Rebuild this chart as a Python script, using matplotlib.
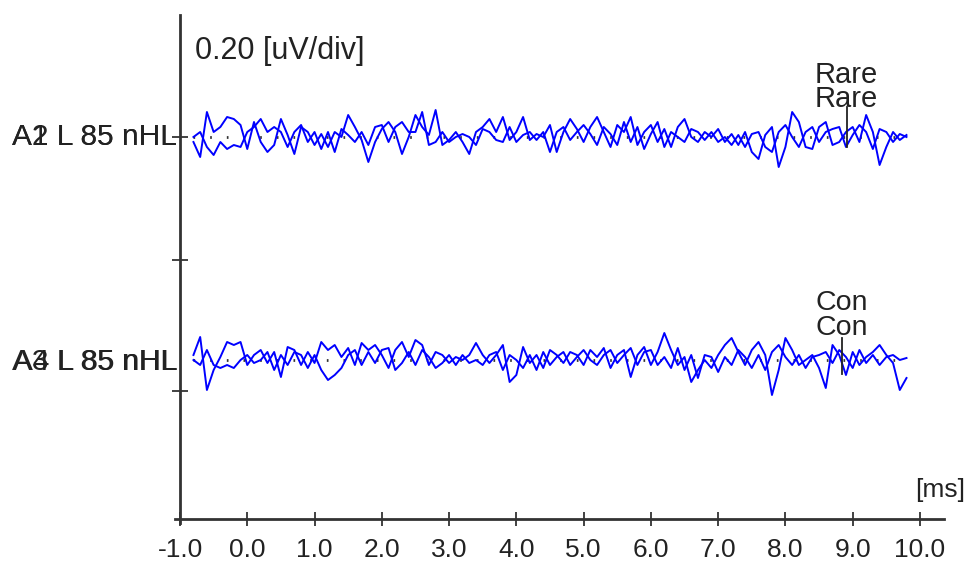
import numpy as np
import matplotlib
matplotlib.use("Agg")
import matplotlib.pyplot as plt

plt.rcParams['font.family'] = ['Liberation Sans', 'DejaVu Sans']

# sample times (ms), 0.1 ms apart
t = np.round(np.arange(-0.8, 9.85, 0.1), 2)

# amplitudes (arbitrary units, + is up)
rare_1 = [-5, -20, 25, 5, 10, 20, 18, 12, -12, 15, -5, -15, -8, 18, 2, -17, 10, 5, -8, 3,
          -10, 5, 0, 22, 10, -3, -25, -5, 8, 15, 5, -17, 0, 22, 10, 2, 27, -8, -3, 5,
          -5, -17, 5, 10, 18, 5, 20, -3, 5, 20, -3, 3, 0, 12, -15, 5, 18, 8, -5, 10,
          20, 5, -10, 12, 5, 20, -8, 5, 12, -5, 8, -10, 10, 18, 0, -5, 5, 0, 8, -5,
          3, -8, 5, -15, -22, 2, 10, -30, -10, 25, 15, -10, -12, 10, 15, -8, -5, 5, 10, -5,
          22, 5, -28, -10, 5, -3, 2]
rare_2 = [0, 5, -10, -18, -5, -12, -8, -10, 5, 10, 18, 5, 10, 5, -10, 5, 12, -5, 5, -12,
          5, -15, 8, 2, -5, 5, -8, 10, 12, -5, 10, 15, 5, 5, 25, -8, -5, 5, -5, 0,
          3, 0, -8, 8, 5, -3, -5, 10, -5, 2, 5, -3, 5, -15, 5, 10, -3, 5, 12, 3,
          -8, 10, 3, -8, 15, -5, 10, -12, 3, 15, -10, 5, 0, -5, 8, 5, -3, 5, -5, 0,
          -8, 2, -10, 3, 5, -10, -15, 5, 12, 0, -10, 5, 10, -5, 5, 8, 10, -10, 2, 12,
          5, -12, 8, 5, -5, 3, 0]
con_1 = [5, 23, -30, -10, 3, 18, 15, 18, -5, 5, 10, -3, 8, -17, 13, 10, -5, 8, -3, 18,
         10, 15, 3, 12, -5, 17, 10, 15, 5, -8, 10, 18, 3, 20, 15, -5, 8, 5, -3, 3,
         0, 5, 17, 5, -3, 5, 15, -22, -15, 13, -3, 5, -8, 10, 5, -3, 8, 5, -5, 10,
         3, 12, -8, 5, 10, -17, 5, 13, -5, 8, 27, 10, -5, 3, -22, -10, 0, -8, 5, 15,
         22, 8, -5, 10, 18, 5, -35, -10, 22, 10, -5, 0, 5, -8, -28, 15, 5, -15, 8, -5,
         3, 8, 15, 5, -3, -30, -18]
con_2 = [0, -5, 10, -5, -8, -5, -8, 0, 5, -3, 0, 8, -10, 5, -5, 8, 5, -8, 5, -10,
         -20, -15, -8, 5, 10, -5, 8, -3, 10, 12, -10, -3, 8, -5, 10, 3, -8, -3, 5, -5,
         5, -3, 0, -5, 5, 8, -10, 5, 0, -8, 5, -10, 8, -5, 3, 8, -5, 3, 10, 0,
         -5, 5, 10, -3, 5, 12, -5, 8, 10, -5, 3, -8, 12, -10, 5, -18, 5, 3, -12, 3,
         -5, 10, 3, -8, 5, -10, 8, 15, 3, -5, 5, -8, 3, 5, 8, -3, 10, 3, -8, 10,
         -3, 5, -5, 3, 5, 0, 2]

x_ticks = [-1.0, 0.0, 1.0, 2.0, 3.0, 4.0, 5.0, 6.0, 7.0, 8.0, 9.0, 10.0]
rare_base = 382
con_base = 159
y_ticks = [382, 259, 128]
rare_mark = 8.91
con_mark = 8.84

blue = '#0000ff'
ink = '#222222'

fig = plt.figure(figsize=(9.71, 5.71), dpi=100)
ax = fig.add_axes([180 / 971, 52 / 571, 763.5 / 971, 504 / 571])
ax.set_xlim(-1.0, 10.35)
ax.set_ylim(0, 504)
for s in ax.spines.values():
    s.set_visible(False)

# axes lines
ax.plot([-1.08, 10.35], [0, 0], color='#333333', lw=2, clip_on=False)
ax.plot([-1.0, -1.0], [-4, 504], color='#333333', lw=2, clip_on=False)

ax.set_xticks(x_ticks)
ax.set_xticklabels([f"{v:.1f}" for v in x_ticks])
ax.set_yticks(y_ticks)
ax.set_yticklabels([])
ax.tick_params(axis='x', direction='inout', length=10, width=1.3, color='#333333',
               labelsize=19, labelcolor=ink, pad=9)
ax.tick_params(axis='y', direction='inout', length=11, width=1.3, color='#333333')

# dotted baselines
for b in (rare_base, con_base):
    ax.plot([-0.8, 9.8], [b, b], color='#333333', lw=2, ls=(0, (0.6, 5.4)))

# traces
for tr, b in ((rare_1, rare_base), (rare_2, rare_base), (con_1, con_base), (con_2, con_base)):
    ax.plot(t, np.array(tr) + b, color=blue, lw=1.4)

# markers
ax.plot([rare_mark, rare_mark], [rare_base - 10, rare_base + 30], color=ink, lw=1.3)
ax.plot([con_mark, con_mark], [con_base - 14, con_base + 22], color=ink, lw=1.3)

ax.text(rare_mark, rare_base + 62, "Rare", ha='center', va='center', fontsize=21, color=ink)
ax.text(rare_mark, rare_base + 38, "Rare", ha='center', va='center', fontsize=21, color=ink)
ax.text(con_mark, con_base + 57, "Con", ha='center', va='center', fontsize=20.5, color=ink)
ax.text(con_mark, con_base + 32, "Con", ha='center', va='center', fontsize=20.5, color=ink)

ax.text(-1.04, rare_base, "A1 L 85 nHL", ha='right', va='center', fontsize=21.5, color=ink)
ax.text(-1.04, rare_base, "A2 L 85 nHL", ha='right', va='center', fontsize=21.5, color=ink)
ax.text(-1.04, con_base - 2, "A3 L 85 nHL", ha='right', va='center', fontsize=21.5, color=ink)
ax.text(-1.04, con_base - 2, "A4 L 85 nHL", ha='right', va='center', fontsize=21.5, color=ink)

ax.text(-0.78, 468, "0.20 [uV/div]", ha='left', va='center', fontsize=22, color=ink)
ax.text(10.67, 29, "[ms]", ha='right', va='center', fontsize=19, color=ink)

fig.savefig("out.png", dpi=100)
